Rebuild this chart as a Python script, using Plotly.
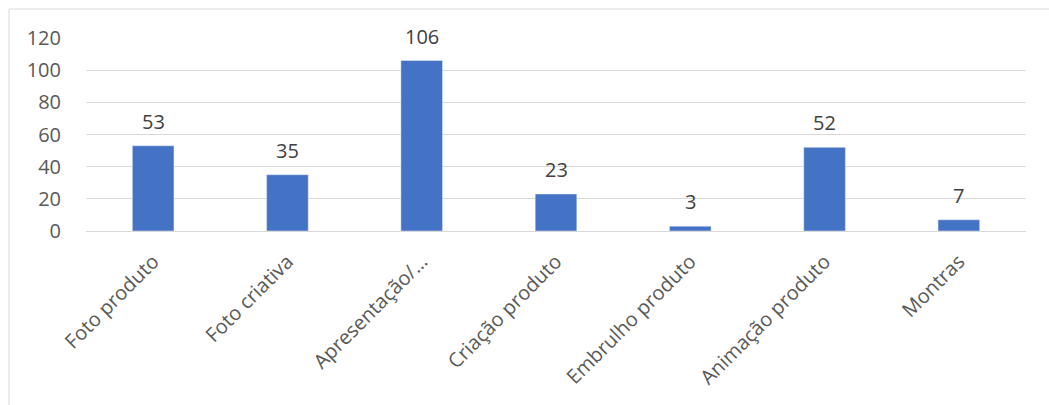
import plotly.graph_objects as go

categories = ["Foto produto", "Foto criativa", "Apresentação/…", "Criação produto",
              "Embrulho produto", "Animação produto", "Montras"]
values = [53, 35, 106, 23, 3, 52, 7]
y_ticks = [0, 20, 40, 60, 80, 100, 120]

W, H = 1049, 405
ml, mr, mt, mb = 86, 23, 38, 174
pw, ph = W - ml - mr, H - mt - mb

fig = go.Figure()
fig.add_trace(go.Bar(x=categories, y=values, marker_color="#4472C4", width=0.31,
                     hoverinfo="skip"))

for c, v in zip(categories, values):
    fig.add_annotation(x=c, y=v, text=str(v), showarrow=False, yanchor="bottom",
                       yshift=9, font=dict(size=20, color="#404040"))

# chart border
fig.add_shape(type="rect", xref="paper", yref="paper",
              x0=(9 - ml) / pw, x1=(W + 5 - ml) / pw,
              y0=-(H + 5 - mt - ph) / ph, y1=(mt - 9) / ph + 1,
              line=dict(color="#D9D9D9", width=1), layer="below")

fig.update_layout(
    width=W, height=H,
    margin=dict(l=ml, r=mr, t=mt, b=mb),
    paper_bgcolor="white", plot_bgcolor="white",
    font=dict(family="Open Sans, Noto Sans, sans-serif", color="#595959", size=18),
    showlegend=False,
    xaxis=dict(tickangle=-45, showgrid=False, showline=False, ticks="",
               ticklabelstandoff=14,
               tickfont=dict(size=20, color="#595959")),
    yaxis=dict(range=[0, 120], tickvals=y_ticks, showgrid=True, gridcolor="#D9D9D9",
               gridwidth=1, zeroline=True, zerolinecolor="#D9D9D9", zerolinewidth=1,
               showline=False, ticks="outside", ticklen=20, tickcolor="rgba(0,0,0,0)",
               tickfont=dict(size=20, color="#595959")),
)

fig.write_html("out.html")
